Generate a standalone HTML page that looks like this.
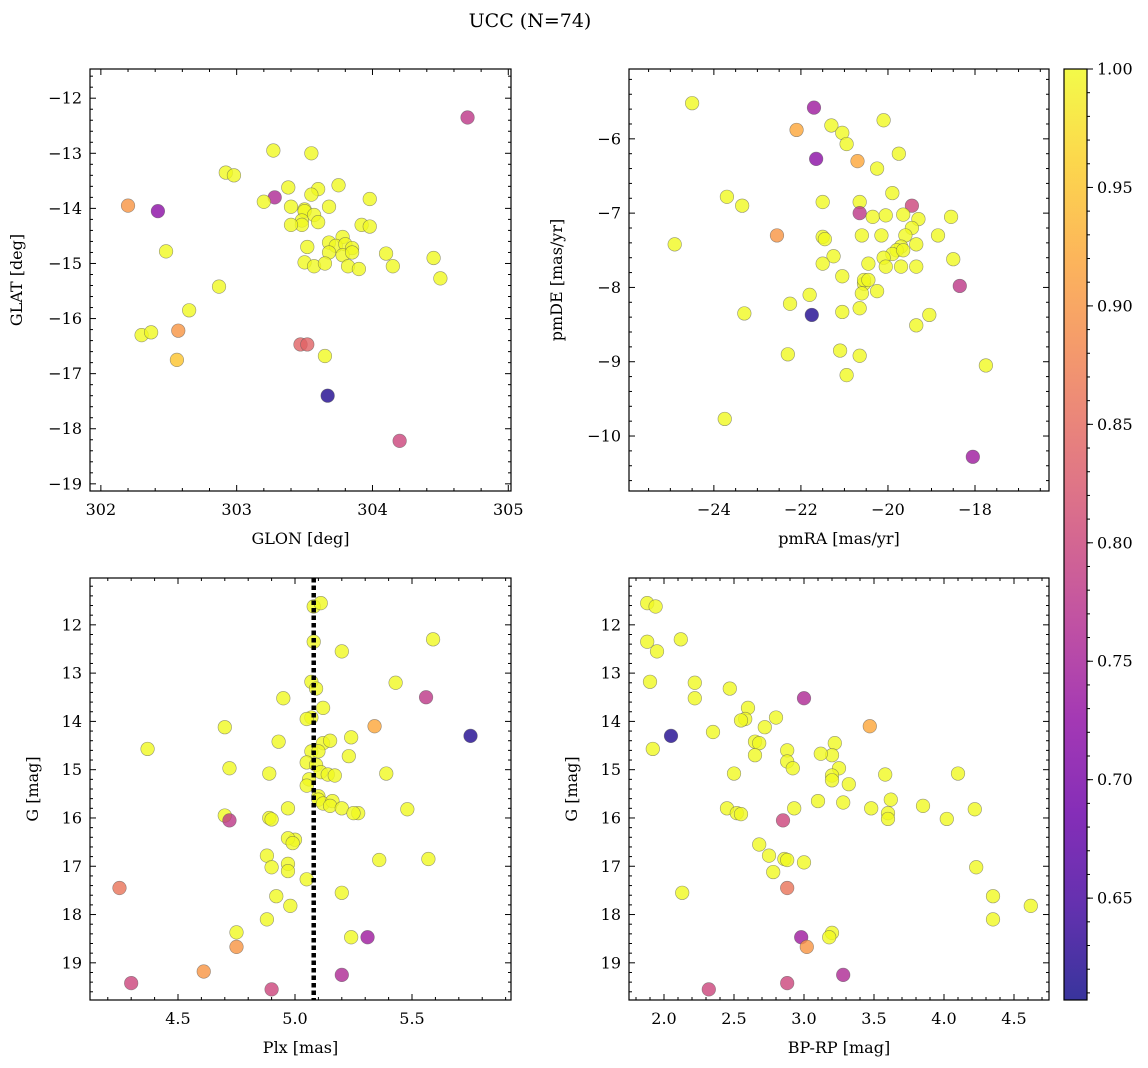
<!DOCTYPE html>
<html><head><meta charset="utf-8">
<style>
html,body{margin:0;padding:0;background:#fff;}
svg{display:block;font-family:"DejaVu Serif","Liberation Serif",serif;}
</style></head>
<body>
<svg id="fig" width="1148" height="1068" viewBox="0 0 1148 1068" xmlns="http://www.w3.org/2000/svg">
<text x="530" y="27" font-size="19" text-anchor="middle">UCC (N=74)</text>
</svg>
<script>
// ---- data ----
const tlGlon=[303.27,303.55,304.7,302.2,302.42,303.28,303.2,302.92,302.98,303.38,303.6,303.75,303.55,303.98,303.4,303.5,303.5,303.57,303.68,303.48,303.48,303.4,303.6,303.92,303.98,303.78,303.68,303.73,303.8,303.85,303.52,303.68,303.78,303.85,304.1,304.45,302.48,303.5,303.57,303.65,303.82,303.9,304.15,304.5,302.87,302.65,302.3,302.37,302.57,303.47,303.52,303.65,302.56,303.67,304.2];
const tlGlat=[-12.95,-13.0,-12.35,-13.95,-14.05,-13.8,-13.88,-13.35,-13.4,-13.62,-13.65,-13.58,-13.75,-13.83,-13.97,-14.02,-14.05,-14.12,-13.97,-14.22,-14.3,-14.3,-14.25,-14.3,-14.33,-14.52,-14.62,-14.68,-14.65,-14.72,-14.7,-14.8,-14.85,-14.8,-14.82,-14.9,-14.78,-14.98,-15.05,-15.0,-15.05,-15.1,-15.05,-15.27,-15.42,-15.85,-16.3,-16.25,-16.22,-16.47,-16.47,-16.68,-16.75,-17.4,-18.22];
const tlProb=[1,1,.78,.9,.72,.76,1,1,1,1,1,1,1,1,1,1,1,1,1,1,1,1,1,1,1,1,1,1,1,1,1,1,1,1,1,1,1,1,1,1,1,1,1,1,1,1,1,1,.9,.84,.84,1,.95,.62,.8];

const trPmra=[-24.5,-21.7,-22.1,-21.3,-21.05,-20.1,-20.95,-21.65,-20.7,-19.75,-20.25,-23.7,-23.35,-24.9,-22.55,-21.5,-20.65,-20.65,-19.9,-19.45,-19.65,-20.35,-20.05,-19.3,-18.55,-19.45,-19.6,-18.85,-21.5,-21.45,-20.6,-20.15,-19.35,-19.7,-19.8,-19.9,-19.65,-20.1,-20.05,-20.45,-19.7,-19.35,-21.25,-21.5,-18.5,-21.05,-20.55,-20.55,-20.45,-20.25,-18.35,-20.6,-21.8,-22.25,-23.3,-21.75,-21.05,-20.65,-19.05,-19.35,-21.1,-22.3,-20.65,-20.95,-17.75,-23.75,-18.05];
const trPmde=[-5.52,-5.58,-5.88,-5.82,-5.92,-5.75,-6.07,-6.27,-6.3,-6.2,-6.4,-6.78,-6.9,-7.42,-7.3,-6.85,-6.85,-7.0,-6.73,-6.9,-7.02,-7.05,-7.03,-7.08,-7.05,-7.2,-7.3,-7.3,-7.32,-7.35,-7.3,-7.3,-7.42,-7.45,-7.5,-7.55,-7.5,-7.6,-7.72,-7.68,-7.72,-7.72,-7.58,-7.68,-7.62,-7.85,-7.95,-7.9,-7.9,-8.05,-7.98,-8.08,-8.1,-8.22,-8.35,-8.37,-8.33,-8.28,-8.37,-8.51,-8.85,-8.9,-8.92,-9.18,-9.05,-9.77,-10.28];
const trProb=[1,.74,.92,1,1,1,1,.72,.92,1,1,1,1,1,.9,1,1,.78,1,.8,1,1,1,1,1,1,1,1,1,1,1,1,1,1,1,1,1,1,1,1,1,1,1,1,1,1,1,1,1,1,.78,1,1,1,1,.62,1,1,1,1,1,1,1,1,1,1,.74];

const blPlx=[5.08,5.11,5.59,5.08,5.2,5.07,5.09,5.43,4.95,5.56,5.12,5.07,5.05,5.34,4.7,4.93,5.24,5.75,5.12,5.15,4.37,5.07,5.1,5.05,5.23,4.72,5.09,5.11,5.14,5.17,4.89,5.39,5.06,5.05,5.1,5.1,5.12,5.16,5.15,5.2,5.27,5.25,4.97,5.48,4.7,4.72,4.89,4.9,5.0,4.97,4.99,4.88,5.36,5.57,4.97,4.9,4.97,5.05,4.25,4.92,5.2,4.98,4.88,4.75,5.24,5.31,4.75,4.61,5.2,4.3,4.9];
const blG=[11.62,11.55,12.3,12.35,12.55,13.18,13.32,13.2,13.52,13.5,13.72,13.92,13.95,14.1,14.12,14.42,14.33,14.3,14.45,14.4,14.57,14.62,14.62,14.85,14.72,14.97,14.9,15.05,15.1,15.12,15.08,15.08,15.2,15.33,15.55,15.62,15.7,15.65,15.75,15.8,15.9,15.9,15.8,15.82,15.95,16.05,16.0,16.03,16.45,16.42,16.52,16.78,16.87,16.85,16.95,17.02,17.1,17.27,17.45,17.62,17.55,17.82,18.1,18.37,18.47,18.47,18.67,19.18,19.25,19.42,19.55];
const blProb=[1,1,1,1,1,1,1,1,1,.78,1,1,1,.92,1,1,1,.62,1,1,1,1,1,1,1,1,1,1,1,1,1,1,1,1,1,1,1,1,1,1,1,1,1,1,1,.78,1,1,1,1,1,1,1,1,1,1,1,1,.86,1,1,1,1,1,1,.74,.9,.9,.76,.8,.8];
const plxMedian=[5.08];

const brBprp=[1.88,1.94,1.88,2.12,1.95,1.9,2.22,2.22,2.47,2.6,3.0,2.58,2.55,2.05,3.47,1.92,2.35,2.72,2.8,2.65,2.68,3.22,3.2,2.88,3.12,2.65,2.88,2.92,3.25,3.2,3.2,2.5,3.32,3.58,4.1,3.1,3.28,3.62,2.45,2.52,2.55,2.93,3.48,3.85,4.22,3.6,3.6,4.02,2.85,2.68,2.75,2.86,2.88,3.0,2.78,4.23,2.88,2.13,4.35,4.62,4.35,3.2,3.18,2.98,3.02,3.28,2.88,2.32];
const brG=[11.55,11.62,12.35,12.3,12.55,13.18,13.2,13.52,13.32,13.72,13.52,13.95,13.98,14.3,14.1,14.57,14.22,14.12,13.92,14.42,14.45,14.45,14.7,14.6,14.67,14.7,14.83,14.97,14.97,15.12,15.22,15.08,15.3,15.1,15.08,15.65,15.68,15.62,15.8,15.9,15.92,15.8,15.8,15.75,15.82,15.9,16.02,16.02,16.05,16.55,16.78,16.85,16.87,16.92,17.12,17.02,17.45,17.55,17.62,17.82,18.1,18.38,18.47,18.47,18.67,19.25,19.42,19.55];
const brProb=[1,1,1,1,1,1,1,1,1,1,.76,1,1,.62,.92,1,1,1,1,1,1,1,1,1,1,1,1,1,1,1,1,1,1,1,1,1,1,1,1,1,1,1,1,1,1,1,1,1,.8,1,1,1,1,1,1,1,.86,1,1,1,1,1,1,.74,.9,.76,.8,.8];

const cbTicks=[0.65,0.70,0.75,0.80,0.85,0.90,0.95,1.00];
const cbMin=0.607, cbMax=1.0;

// ---- helpers ----
const NS="http://www.w3.org/2000/svg";
const svg=document.getElementById('fig');
function mk(tag,attrs,parent){const e=document.createElementNS(NS,tag);for(const k in attrs)e.setAttribute(k,attrs[k]);(parent||svg).appendChild(e);return e;}
const stops=["#0d0887","#41049d","#6a00a8","#8f0da4","#b12a90","#cc4778","#e16462","#f2844b","#fca636","#fcce25","#f0f921"];
function hex(h){return [parseInt(h.substr(1,2),16),parseInt(h.substr(3,2),16),parseInt(h.substr(5,2),16)];}
function plasma(t){t=Math.max(0,Math.min(1,t));const f=t*10,i=Math.min(9,Math.floor(f)),u=f-i;const a=hex(stops[i]),b=hex(stops[i+1]);return `rgb(${a.map((v,k)=>Math.round(v+(b[k]-v)*u)).join(',')})`;}
function colorOf(p){return plasma((p-cbMin)/(cbMax-cbMin));}
function fmt(v,d){return (v<0?'\u2212':'')+Math.abs(v).toFixed(d);}

function panel(o){
  const g=mk('g',{});
  
  
  const {x0,x1,y0,y1,xmin,xmax,ymin,ymax,invertY}=o;
  const sx=v=>x0+(v-xmin)/(xmax-xmin)*(x1-x0);
  const sy=invertY?(v=>y0+(v-ymin)/(ymax-ymin)*(y1-y0)):(v=>y1-(v-ymin)/(ymax-ymin)*(y1-y0));
  const pg=mk('g',{},g);
  
  
  for(let i=0;i<o.xs.length;i++){
    const c=mk('circle',{cx:sx(o.xs[i]),cy:sy(o.ys[i]),r:6.8,fill:colorOf(o.ps[i]),'fill-opacity':0.8,stroke:'#555','stroke-opacity':0.6,'stroke-width':0.6},pg);
    
    
  }
  if(o.vline!==undefined){
    const l=mk('line',{x1:sx(o.vline),x2:sx(o.vline),y1:y0,y2:y1,stroke:'#000','stroke-width':4.5,'stroke-dasharray':'4.5 3'},g);
    
    
  }
  const fr=mk('rect',{x:x0,y:y0,width:x1-x0,height:y1-y0,fill:'none',stroke:'#000','stroke-width':1.2},g);
  
  
  const tk=mk('g',{stroke:'#000','stroke-width':1},g);
  const eps=1e-6;
  for(let v=Math.ceil(xmin/o.xminor)*o.xminor;v<=xmax+eps;v+=o.xminor){
    const isMaj=Math.abs(v/o.xmajor-Math.round(v/o.xmajor))<1e-4;const L=isMaj?6:3;const X=sx(v);
    mk('line',{x1:X,x2:X,y1:y1,y2:y1-L},tk);mk('line',{x1:X,x2:X,y1:y0,y2:y0+L},tk);
    if(isMaj){const t=mk('text',{x:X,y:y1+24,'font-size':16,'text-anchor':'middle',stroke:'none'},g);t.textContent=fmt(v,o.xdec);
      }
  }
  for(let v=Math.ceil(ymin/o.yminor)*o.yminor;v<=ymax+eps;v+=o.yminor){
    const isMaj=Math.abs(v/o.ymajor-Math.round(v/o.ymajor))<1e-4;const L=isMaj?6:3;const Y=sy(v);
    mk('line',{x1:x0,x2:x0+L,y1:Y,y2:Y},tk);mk('line',{x1:x1,x2:x1-L,y1:Y,y2:Y},tk);
    if(isMaj){const t=mk('text',{x:x0-8,y:Y+5.5,'font-size':16,'text-anchor':'end',stroke:'none'},g);t.textContent=fmt(v,o.ydec);
      }
  }
  const xl=mk('text',{x:(x0+x1)/2,y:y1+53,'font-size':16,'text-anchor':'middle'},g);xl.textContent=o.xlabel;
  
  const yx=o.ylabX, yy=(y0+y1)/2;
  const yl=mk('text',{x:yx,y:yy,'font-size':16,'text-anchor':'middle',transform:`rotate(-90 ${yx} ${yy})`},g);yl.textContent=o.ylabel;
  
}

panel({name:'glon-glat-panel',x0:90,x1:511,y0:69,y1:491,xmin:301.92,xmax:305.02,ymin:-19.13,ymax:-11.47,invertY:false,
  xs:tlGlon,ys:tlGlat,ps:tlProb,xmajor:1,xminor:0.2,ymajor:1,yminor:0.2,xdec:0,ydec:0,xlabel:'GLON [deg]',ylabel:'GLAT [deg]',ylabX:22});
panel({name:'pm-panel',x0:629,x1:1049,y0:69,y1:491,xmin:-25.95,xmax:-16.3,ymin:-10.74,ymax:-5.06,invertY:false,
  xs:trPmra,ys:trPmde,ps:trProb,xmajor:2,xminor:0.5,ymajor:1,yminor:0.2,xdec:0,ydec:0,xlabel:'pmRA [mas/yr]',ylabel:'pmDE [mas/yr]',ylabX:562});
panel({name:'plx-g-panel',x0:90,x1:511,y0:578,y1:1000,xmin:4.124,xmax:5.923,ymin:11.03,ymax:19.77,invertY:true,
  xs:blPlx,ys:blG,ps:blProb,xmajor:0.5,xminor:0.1,ymajor:1,yminor:0.2,xdec:1,ydec:0,xlabel:'Plx [mas]',ylabel:'G [mag]',ylabX:38,vline:plxMedian[0]});
panel({name:'cmd-panel',x0:629,x1:1049,y0:578,y1:1000,xmin:1.75,xmax:4.75,ymin:11.03,ymax:19.77,invertY:true,
  xs:brBprp,ys:brG,ps:brProb,xmajor:0.5,xminor:0.1,ymajor:1,yminor:0.2,xdec:1,ydec:0,xlabel:'BP-RP [mag]',ylabel:'G [mag]',ylabX:577});

(function(){
  const g=mk('g',{});
  
  
  const x0=1064,x1=1087,y0=69,y1=1000;
  const defs=mk('defs',{},g);
  const lg=mk('linearGradient',{id:'cbg',x1:0,y1:1,x2:0,y2:0},defs);
  for(let i=0;i<=20;i++){const t=i/20;mk('stop',{offset:t,'stop-color':plasma(t),'stop-opacity':0.82},lg);}
  mk('rect',{x:x0,y:y0,width:x1-x0,height:y1-y0,fill:'url(#cbg)',stroke:'#000','stroke-width':1.2},g);
  const sy=v=>y1-(v-cbMin)/(cbMax-cbMin)*(y1-y0);
  for(let v=0.61;v<=1.0001;v+=0.01){const Y=sy(v);mk('line',{x1:x1,x2:x1+3,y1:Y,y2:Y,stroke:'#000','stroke-width':1},g);}
  cbTicks.forEach(v=>{const Y=sy(v);mk('line',{x1:x1,x2:x1+6,y1:Y,y2:Y,stroke:'#000','stroke-width':1},g);
    const t=mk('text',{x:x1+10,y:Y+5.5,'font-size':16},g);t.textContent=v.toFixed(2);
    });
})();
</script>
</body></html>
